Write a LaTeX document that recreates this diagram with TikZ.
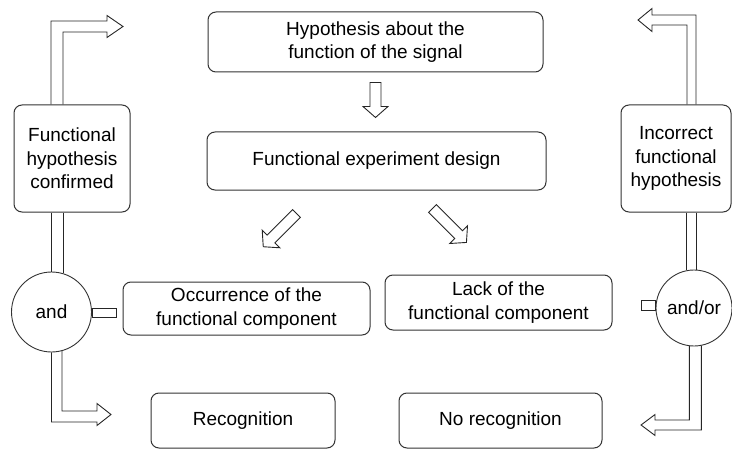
\documentclass[tikz,border=0pt]{standalone}
\usepackage{fontspec}
\setmainfont{Liberation Sans}
\usetikzlibrary{calc}
\begin{document}
\begin{tikzpicture}[x=1pt,y=-1pt,
    every node/.style={font=\fontsize{19}{23.5}\selectfont},
    box/.style={draw=black!80,line width=1pt,rounded corners=8pt,align=center,inner sep=0pt,fill=white},
    gate/.style={draw=black!80,line width=.9pt,circle,inner sep=0pt,minimum size=#1,fill=white},
    outline/.style={draw=black!85,line width=.9pt,line join=miter},
    pics/hollowarrow/.style={code={\draw[outline] (0,-5.5)--(#1-11,-5.5)--(#1-11,-12.5)--(#1,0)--(#1-11,12.5)--(#1-11,5.5)--(0,5.5)--cycle;}}]
    \useasboundingbox (0,0) rectangle (732,452);
    \node[box,minimum width=335pt,minimum height=60pt] (hyp) at (375.5,42) {Hypothesis about the\\function of the signal};
    \node[box,minimum width=339pt,minimum height=58pt] (design) at (376.5,161) {Functional experiment design};
    \node[box,minimum width=116pt,minimum height=107pt] (confirmed) at (72,158.5) {Functional\\hypothesis\\confirmed};
    \node[box,minimum width=110pt,minimum height=107pt] (incorrect) at (676,158.5) {Incorrect\\functional\\hypothesis};
    \node[gate=80pt] (and) at (51.5,312) {and};
    \node[gate=76pt] (andor) at (694,308) {and/or};
    \node[box,minimum width=247pt,minimum height=53pt] (occur) at (246.5,308.5) {Occurrence of the\\functional component};
    \node[box,minimum width=227pt,minimum height=55pt] (lack) at (498.5,302.5) {Lack of the\\functional component};
    \node[box,minimum width=184pt,minimum height=55pt] (recog) at (243,420.5) {Recognition};
    \node[box,minimum width=203pt,minimum height=55pt] (norecog) at (500.5,420.5) {No recognition};
    \pic[rotate=-90] at ($(hyp.south)+(0,10)$) {hollowarrow=35};
    \pic[rotate=225] at ($(design.south)+(-80,23)$) {hollowarrow=47};
    \pic[rotate=-45] at ($(design.south)+(56,18)$) {hollowarrow=48};
    \draw[outline] ($(confirmed.north)+(-21,0)$) |- (107,21)--(107,15.5)--(123,26.5)--(107,37.5)--(107,32) -| ($(confirmed.north)+(-9,0)$);
    \draw[outline] (confirmed.south -| and.north)--(and.north) (confirmed.south -| and.73)--(and.73);
    \draw[outline] (and.south) |- (97,422)--(97,425.5)--(111,414.5)--(97,403.5)--(97,411) -| (and.-75);
    \draw[outline] ($(and.east)+(0,-4)$) rectangle ($(occur.west)+(-6,9)$);
    \draw[outline] ($(incorrect.north)+(20,0)$) |- (652,15)--(652,8.5)--(638,20)--(652,31.5)--(652,25) -| ($(incorrect.north)+(11,0)$);
    \draw[outline] (incorrect.south -| andor.101)--(andor.101) (incorrect.south -| andor.87)--(andor.87);
    \draw[outline] (andor.-79) |- (655,430)--(655,435.5)--(641,425)--(655,414.5)--(655,420) -| (andor.-97);
    \draw[outline] ($(andor.west)+(0,-8)$) rectangle ($(andor.west)+(-14,2)$);
\end{tikzpicture}
\end{document}
